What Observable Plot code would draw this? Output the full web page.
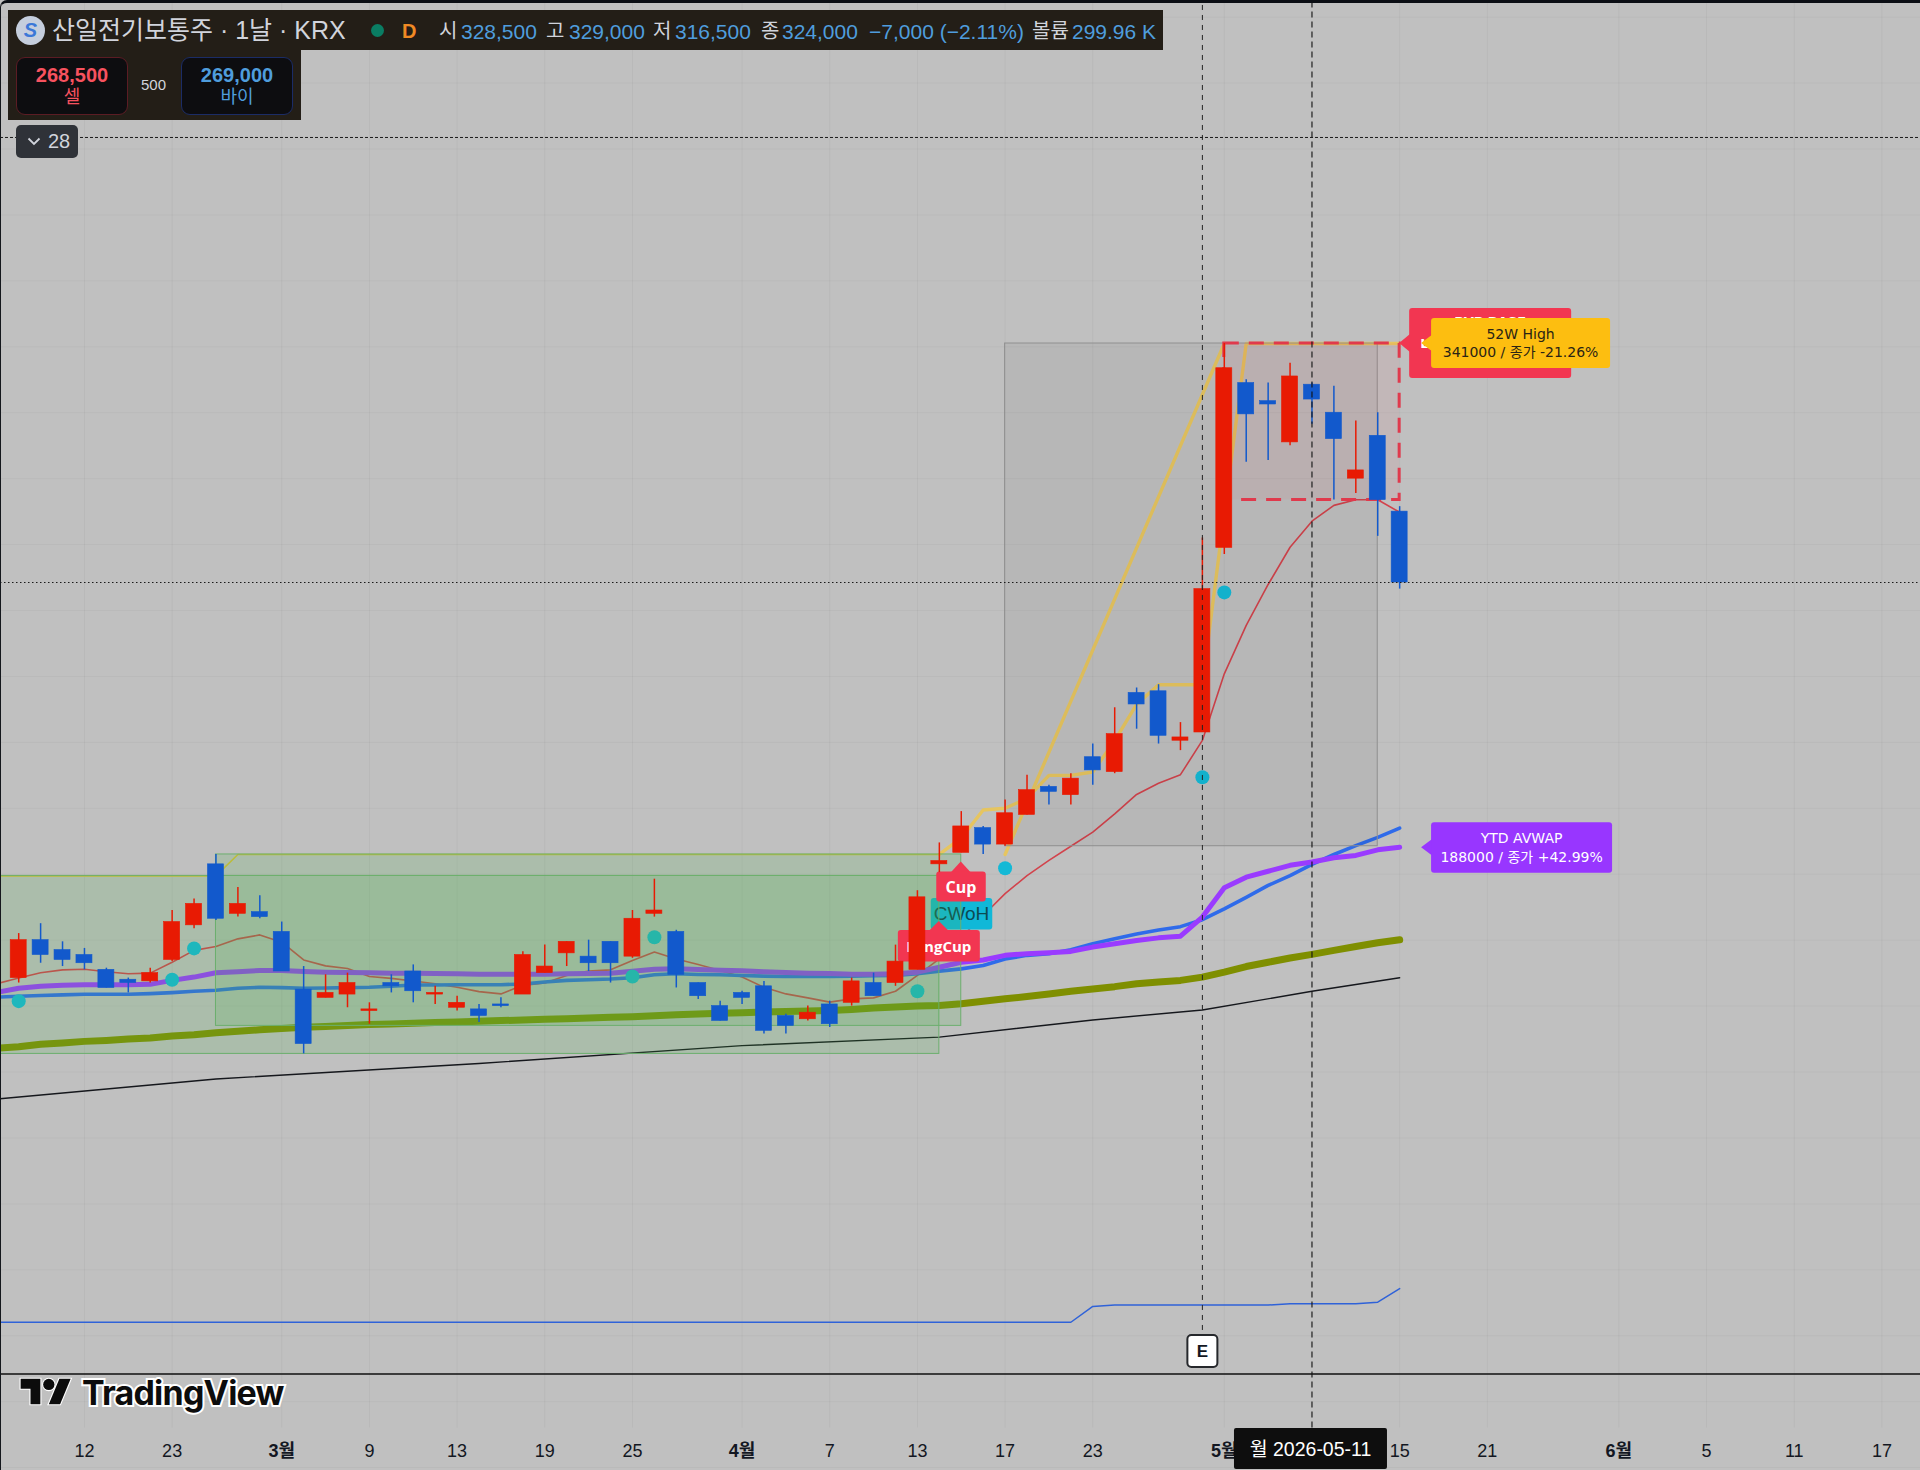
<!DOCTYPE html>
<html lang="ko">
<head>
<meta charset="utf-8">
<script src="https://cdn.jsdelivr.net/npm/d3@7"></script>
<script src="https://cdn.jsdelivr.net/npm/@observablehq/plot@0.6"></script>
<style>
html,body{margin:0;padding:0;background:#c0c0c0;}
#wrap{position:relative;width:1920px;height:1470px;overflow:hidden;font-family:"Liberation Sans","Noto Sans CJK KR",sans-serif;}
#wrap svg.plot{display:block;}
.hd{position:absolute;white-space:nowrap;line-height:1;}
.blue{color:#4f9ddd;font-size:21px;top:21px;}
.wht{color:#d1d4dc;font-size:20px;top:21px;}
.box{position:absolute;top:57px;width:110px;height:56px;background:#0d0d10;border-radius:9px;text-align:center;font-size:18px;line-height:1;}
.box b{display:block;margin-top:7px;font-weight:700;font-size:20px;margin-bottom:3px;}
#frame{position:absolute;inset:0;border-top:3px solid #0b0e14;border-left:1.5px solid #14171c;border-top-left-radius:7px;pointer-events:none;}
</style>
</head>
<body>
<div id="wrap"></div>
<script>
// Candles, oldest first (won)
const opens  = [148500,160000,157000,155500,151000,148000,147500,154000,164500,183000,168000,168500,162500,145000,142500,143500,138500,147000,150500,143500,139500,139000,140500,143500,150000,156000,155000,159500,155000,168000,162500,147000,140000,144000,146000,137000,136000,140500,141000,147000,147000,151000,183000,186500,194000,189000,198000,206500,204000,215500,211000,235000,235500,220500,223000,279000,329000,323500,311000,328500,320000,300000,313000,290000];
const highs  = [162000,165000,159500,157500,151500,148500,151500,169000,172500,186000,176000,173500,165500,152000,149500,150000,141000,149500,152500,146000,143000,140500,142500,156500,158500,159500,160000,159500,169000,178500,163000,147000,141500,144500,147500,137500,140000,141500,148500,150000,158500,175000,189500,199000,194500,202500,210000,207000,210500,219500,230500,236500,237500,226000,282000,341000,330000,329000,335000,329000,328000,317500,320000,291500];
const lows   = [147000,153000,152000,151000,145500,144000,147000,153500,163500,166000,167000,166500,150500,125500,142500,139500,134500,144000,141000,140500,138500,135000,139500,143500,150000,152000,150500,147000,154500,167000,145500,142000,135500,140500,131500,131500,135500,133500,140000,143000,146000,151000,180500,186500,186000,188500,198000,201000,201000,207000,210500,224000,219500,217500,223000,277000,305000,305500,310000,316500,293500,295500,282500,266500];
const closes = [160000,155500,154000,153000,145500,147000,150000,165500,171000,166500,171000,167000,150500,128500,144000,147000,139000,146000,144500,144000,141000,137000,140000,155500,152000,159500,153000,153000,166500,169000,149500,143000,135500,142500,132500,134000,138000,134500,147500,143000,153500,173000,184000,194500,189000,198500,205500,205000,209000,211500,222500,231500,222000,221500,266500,333500,319500,322500,331000,324000,312000,302500,293500,268500];

// Lines: the first value belongs to the bar just left of the frame
const emaRed   = [146800,148500,150100,151000,151200,150400,149800,150000,153300,156900,158100,160400,161600,159400,154000,152200,151400,149000,148400,147600,146800,145700,144400,143700,146300,147000,149300,150600,151000,153800,156400,154300,152600,150800,148800,145700,143700,142500,141200,142200,142500,144500,149300,154300,160900,167500,174100,179600,184200,188500,192800,198300,204200,207600,210200,220600,240800,255500,267900,279200,287100,291900,293600,293600,289800];
const avwapPurple = [144200,145400,146000,146300,146500,146500,146500,146600,147800,148800,150100,150400,150800,150800,150500,150300,150200,150100,150000,150000,149900,149800,149700,149700,149700,149700,149800,149900,150000,150600,151200,151300,151100,150900,150700,150400,150200,150000,149900,149700,149700,149800,150300,151800,153300,154000,155400,155900,156200,156600,157900,158900,159900,160700,161200,167000,175900,179100,180900,182700,183700,185000,185700,187400,188200];
const maBlue   = [142700,143000,143200,143400,143600,143600,143600,143800,144100,144500,144800,145400,145700,145600,145400,145500,145600,145700,146000,146400,146400,146500,146500,146500,146700,147300,147800,148000,148200,148600,149500,149800,149600,149500,149300,149100,149000,149000,149000,149100,149200,149300,149800,150600,151300,152300,154300,155400,155900,157100,158900,160400,161900,163100,164100,166200,169500,173000,176600,179600,183000,186000,188700,191200,194000];
const maOlive  = [127200,127700,128400,128800,129300,129600,130000,130300,130900,131300,131900,132400,132800,133200,133600,133800,134100,134400,134600,134800,135000,135200,135400,135600,135800,136000,136200,136400,136600,136800,137100,137400,137600,137800,138000,138200,138400,138500,138700,139000,139400,139700,140000,140200,140700,141500,142200,142900,143700,144500,145200,145900,146800,147300,147800,148800,150300,152000,153300,154600,155700,156900,158100,159200,160100];
const blackIdx = [-1,9,21,33,42,49,54,59,63];
const maBlack  = [111800,117900,122600,128000,130600,135800,138800,144500,148600];
const yellowThinIdx = [-1,9,10,42];
const yellowThin    = [179500,179500,186000,186000];
const yellowIdx = [42,43,44,45,46,47,48,49,50,51,52,53,54,55,56,63];
const yellowHigh = [186000,191000,199500,200000,203000,210000,210000,211000,220500,231500,237500,237500,237500,289500,341000,341000];
const diagIdx = [45,55];
const diagVal = [186000,341000];
const lowerIdx = [-1,48,49,50,57,58,61,62,63];
const lowerVal = [44100,44100,48900,49300,49300,49700,49700,50200,54300];

const dotIdx = [0,7,8,28,29,41,45,54,55];
const dotVal = [141500,148000,157500,149000,160900,144500,181800,209400,265500];

// Time axis
const dayTickIdx = [3,7,16,20,24,28,37,41,45,49,63,67,77,81,85];
const dayTicks   = ["12","23","9","13","19","25","7","13","17","23","15","21","5","11","17"];
const monthTickIdx = [12,33,55,73];
const monthTicks   = ["3월","4월","5월","6월"];
const gridPrices = d3.range(0,460000,20000);
const FONT = '"Liberation Sans","Noto Sans CJK KR",sans-serif';
const LABELFONT = '"DejaVu Sans","Noto Sans CJK KR",sans-serif';

const bars = opens.map((o,k)=>({i:k,o,h:highs[k],l:lows[k],c:closes[k]}));
const series = (vals,idx)=>vals.map((v,k)=>({i:idx?idx[k]:k-1,v}));
const candleColor = d=>d.c>=d.o?"#e81a03":"#1259cc";
const line = (vals,idx,o)=>Plot.line(series(vals,idx),{x:"i",y:"v",...o});

// A label with its pointer; the pointer tip sits on (bar, price)
function callout(bar,price,lines,o){
  return (index,{x,y})=>{
    const g=d3.create("svg:g").attr("transform",`translate(${x(bar)},${y(price)})`);
    const {rx0,ry0,w,h,fill,color,size=14,weight=400,dir,font=LABELFONT,lh=16,half=9}=o;
    if(dir==="left") g.append("path").attr("d",`M0,0L${rx0+2},${-half}L${rx0+2},${half}Z`).attr("fill",fill);
    if(dir==="up") g.append("path").attr("d",`M0,0L-11,${ry0+2}L11,${ry0+2}Z`).attr("fill",fill);
    g.append("rect").attr("x",rx0).attr("y",ry0).attr("width",w).attr("height",h).attr("rx",3).attr("fill",fill);
    const n=lines.length;
    lines.forEach((t,k)=>{
      g.append("text").attr("x",rx0+w/2).attr("y",ry0+h/2+(k-(n-1)/2)*lh)
       .attr("text-anchor","middle").attr("dominant-baseline","central")
       .attr("font-family",font).attr("font-size",size).attr("font-weight",weight)
       .attr("fill",color).text(t);
    });
    return g.node();
  };
}
// Text that peeks out of the red base label behind the yellow one
function peek(bar,price,text,dx,dy,anchor){
  return (index,{x,y})=>d3.create("svg:text").attr("x",x(bar)+dx).attr("y",y(price)+dy)
    .attr("text-anchor",anchor).attr("dominant-baseline","central")
    .attr("font-family",LABELFONT).attr("font-size",13).attr("font-weight",700).attr("fill","#fff").text(text).node();
}
// Small fixed box on a bar, used by the earnings flag and the crosshair date
function stamp(bar,top,w,h,text,o){
  return (index,{x})=>{
    const cx=x(bar)+(o.shift||0);
    const g=d3.create("svg:g");
    g.append("rect").attr("x",cx-w/2).attr("y",top).attr("width",w).attr("height",h).attr("rx",o.rx)
      .attr("fill",o.fill).attr("stroke",o.stroke||"none").attr("stroke-width",o.sw||0);
    g.append("text").attr("x",cx).attr("y",top+h/2).attr("text-anchor","middle").attr("dominant-baseline","central")
      .attr("font-family",FONT).attr("font-size",o.size).attr("font-weight",o.weight||400).attr("fill",o.color).text(text);
    return g.node();
  };
}
const tickLabel=(idx,labels)=>i=>labels[idx.indexOf(i)];

const chart = Plot.plot({
  width:1920,height:1470,
  marginLeft:0,marginRight:0,marginTop:0,marginBottom:30,
  style:{background:"#c0c0c0",fontFamily:FONT},
  x:{type:"linear",domain:[0,85],range:[18.2,1881.4],axis:null},
  y:{type:"linear",domain:[-875,445050],range:[1470,0],axis:null},
  marks:[
    // grid
    Plot.ruleY(gridPrices,{y:d=>d,stroke:"#000",strokeOpacity:0.03}),
    Plot.ruleX([...dayTickIdx,...monthTickIdx],{x:d=>d,y1:12000,y2:445050,stroke:"#000",strokeOpacity:0.04}),
    // moving lines (sit under the boxes, so the boxes tint them)
    line(maBlack,blackIdx,{stroke:"#15171c",strokeWidth:1.4}),
    line(emaRed,null,{stroke:"#d2434c",strokeWidth:1.6}),
    line(maOlive,null,{stroke:"#7f8f00",strokeWidth:7,strokeLinecap:"round"}),
    line(maBlue,null,{stroke:"#2f6bea",strokeWidth:3.6,strokeLinecap:"round"}),
    line(avwapPurple,null,{stroke:"#9a3bff",strokeWidth:5,strokeLinecap:"round"}),
    line(yellowThin,yellowThinIdx,{stroke:"#d4bf38",strokeWidth:1.6}),
    line(yellowHigh,yellowIdx,{stroke:"#e6c560",strokeWidth:3.4}),
    line(diagVal,diagIdx,{stroke:"#e6c560",strokeWidth:3.4}),
    line(lowerVal,lowerIdx,{stroke:"#2f62d8",strokeWidth:1.5}),
    Plot.dot(dotIdx.map((i,k)=>({i,v:dotVal[k]})),{x:"i",y:"v",r:7,fill:"#14b9d6"}),
    callout(43,166000,["CWoH"],{rx0:-30,ry0:-22,w:61.5,h:31.5,fill:"#10b8d8",color:"#0c4b53",size:19,font:FONT}),
    // boxes
    Plot.rect([0],{x1:45,x2:62,y1:188500,y2:341000,fill:"#000",fillOpacity:0.045,stroke:"#8f8f8f",strokeWidth:1}),
    Plot.rect([0],{x1:-2,x2:42,y1:125500,y2:179500,fill:"#4caf50",fillOpacity:0.18,stroke:"#6caf6e",strokeWidth:1}),
    Plot.rect([0],{x1:9,x2:43,y1:134000,y2:186000,fill:"#4caf50",fillOpacity:0.18,stroke:"#6caf6e",strokeWidth:1}),
    Plot.rect([0],{x1:55,x2:63,y1:293500,y2:341000,fill:"#f23645",fillOpacity:0.06,stroke:"#e0394c",strokeWidth:3,strokeDasharray:"15,10"}),
    // signal labels
    callout(43,183700,["Cup"],{rx0:-24.5,ry0:10,w:49.5,h:30,fill:"#f23651",color:"#fff",size:16,weight:700,dir:"up",font:'"Open Sans",sans-serif'}),
    callout(42,165700,["LongCup"],{rx0:-41,ry0:9,w:82,h:31.5,fill:"#f23651",color:"#fff",size:15,weight:700,dir:"up",font:'"Open Sans",sans-serif'}),
    callout(63,341000,[],{rx0:10,ry0:-35,w:162,h:70,fill:"#f23651",color:"#fff",dir:"left",half:10}),
    peek(63,341000,"PVP BASE",91,-22,"middle"),
    peek(63,341000,"L",21,0,"start"),
    callout(64,341000,["52W High","341000 / 종가 -21.26%"],{rx0:10,ry0:-25,w:179,h:50,fill:"#fdbe10",color:"#2a2415",size:14,lh:18,dir:"left"}),
    callout(64,188000,["YTD AVWAP","188000 / 종가 +42.99%"],{rx0:10,ry0:-25,w:181,h:50.5,fill:"#9836ff",color:"#fff",size:14,lh:18.5,dir:"left"}),
    // candles
    Plot.ruleX(bars,{x:"i",y1:"l",y2:"h",stroke:candleColor,strokeWidth:1.5}),
    Plot.rect(bars,{x1:d=>d.i-0.365,x2:d=>d.i+0.365,y1:"o",y2:"c",fill:candleColor,stroke:candleColor,strokeWidth:0.6}),
    // crosshair and price lines
    Plot.ruleX([54],{x:d=>d,y1:41600,y2:445050,stroke:"#222",strokeWidth:1,strokeDasharray:"5,5"}),
    Plot.ruleX([59],{x:d=>d,y1:12000,y2:445050,stroke:"#111",strokeWidth:1.1,strokeDasharray:"6,4"}),
    Plot.ruleY([403500],{y:d=>d,stroke:"#1a1a1a",strokeWidth:1,strokeDasharray:"3,2"}),
    Plot.ruleY([268500],{y:d=>d,stroke:"#1a1a1a",strokeWidth:1,strokeDasharray:"1.5,2.5"}),
    Plot.ruleY([28400],{y:d=>d,stroke:"#0f0f0f",strokeWidth:1.6}),
    // time axis
    Plot.axisX(dayTickIdx,{anchor:"bottom",tickSize:0,tickPadding:4,label:null,fontSize:18,fill:"#131722",tickFormat:tickLabel(dayTickIdx,dayTicks)}),
    Plot.axisX(monthTickIdx,{anchor:"bottom",tickSize:0,tickPadding:4,label:null,fontSize:18,fontWeight:700,fill:"#131722",tickFormat:tickLabel(monthTickIdx,monthTicks)}),
    stamp(54,1335,30,32,"E",{rx:4,fill:"#fff",stroke:"#26282c",sw:2,size:17,weight:700,color:"#131722",shift:0.5}),
    stamp(59,1428,153,41,"월 2026-05-11",{rx:2,fill:"#0e0e0e",size:19.5,weight:400,color:"#fff",shift:-1})
  ]
});
const wrap=document.getElementById("wrap");
wrap.appendChild(chart);

const legend=document.createElement("div");
legend.innerHTML=`
<div class="hd" style="left:8px;top:10px;width:1155px;height:40px;background:#231e17;"></div>
<div class="hd" style="left:8px;top:50px;width:293px;height:70px;background:#231e17;"></div>
<div class="hd" style="left:16px;top:16px;width:29px;height:29px;border-radius:50%;background:#c5cedd;color:#3b78d8;font:italic 700 20px/29px 'Liberation Sans';text-align:center;">S</div>
<div class="hd wht" style="left:52px;top:18px;font-size:25px;">산일전기보통주 · 1날 · KRX</div>
<div class="hd" style="left:371px;top:24px;width:13px;height:13px;border-radius:50%;background:#0a7d63;"></div>
<div class="hd" style="left:402px;top:21px;font-size:20px;font-weight:700;color:#f08a24;">D</div>
<div class="hd wht" style="left:439px;">시</div><div class="hd blue" style="left:461px;">328,500</div>
<div class="hd wht" style="left:546px;">고</div><div class="hd blue" style="left:569px;">329,000</div>
<div class="hd wht" style="left:653px;">저</div><div class="hd blue" style="left:675px;">316,500</div>
<div class="hd wht" style="left:761px;">종</div><div class="hd blue" style="left:782px;">324,000</div>
<div class="hd blue" style="left:869px;">−7,000 (−2.11%)</div>
<div class="hd wht" style="left:1032px;">볼륨</div><div class="hd blue" style="left:1072px;">299.96 K</div>
<div class="box" style="left:16px;border:1px solid #5b1c24;color:#f7525f;"><b>268,500</b>셀</div>
<div class="hd" style="left:141px;top:77px;color:#d1d4dc;font-size:15px;">500</div>
<div class="box" style="left:181px;border:1px solid #1b2c66;color:#4f9ddd;"><b>269,000</b>바이</div>
<div class="hd" style="left:16px;top:125px;width:62px;height:33px;background:#2f3238;border-radius:5px;color:#d1d4dc;font-size:20px;line-height:33px;">
  <svg width="14" height="10" style="position:absolute;left:11px;top:12px;"><path d="M1.5,1.5L7,7L12.5,1.5" fill="none" stroke="#d1d4dc" stroke-width="1.8"/></svg>
  <span style="position:absolute;left:32px;">28</span></div>
<svg class="hd" style="left:20px;top:1376px;overflow:visible;" width="52" height="31" viewBox="0 0 36 22">
  <g fill="#0c0c0c" stroke="#fff" stroke-width="1.6" paint-order="stroke">
  <path d="M14 20H7V9H0V2h14v18z"/><circle cx="20" cy="6" r="4"/><path d="M28 20h-8l7.5-18h8L28 20z"/></g></svg>
<div class="hd" style="left:82px;top:1374px;font:700 34px/38px Inter,sans-serif;letter-spacing:-0.8px;color:#0c0c0c;-webkit-text-stroke:4px #fff;paint-order:stroke fill;">TradingView</div>
<div id="frame"></div>`;
wrap.appendChild(legend);
</script>
</body>
</html>
